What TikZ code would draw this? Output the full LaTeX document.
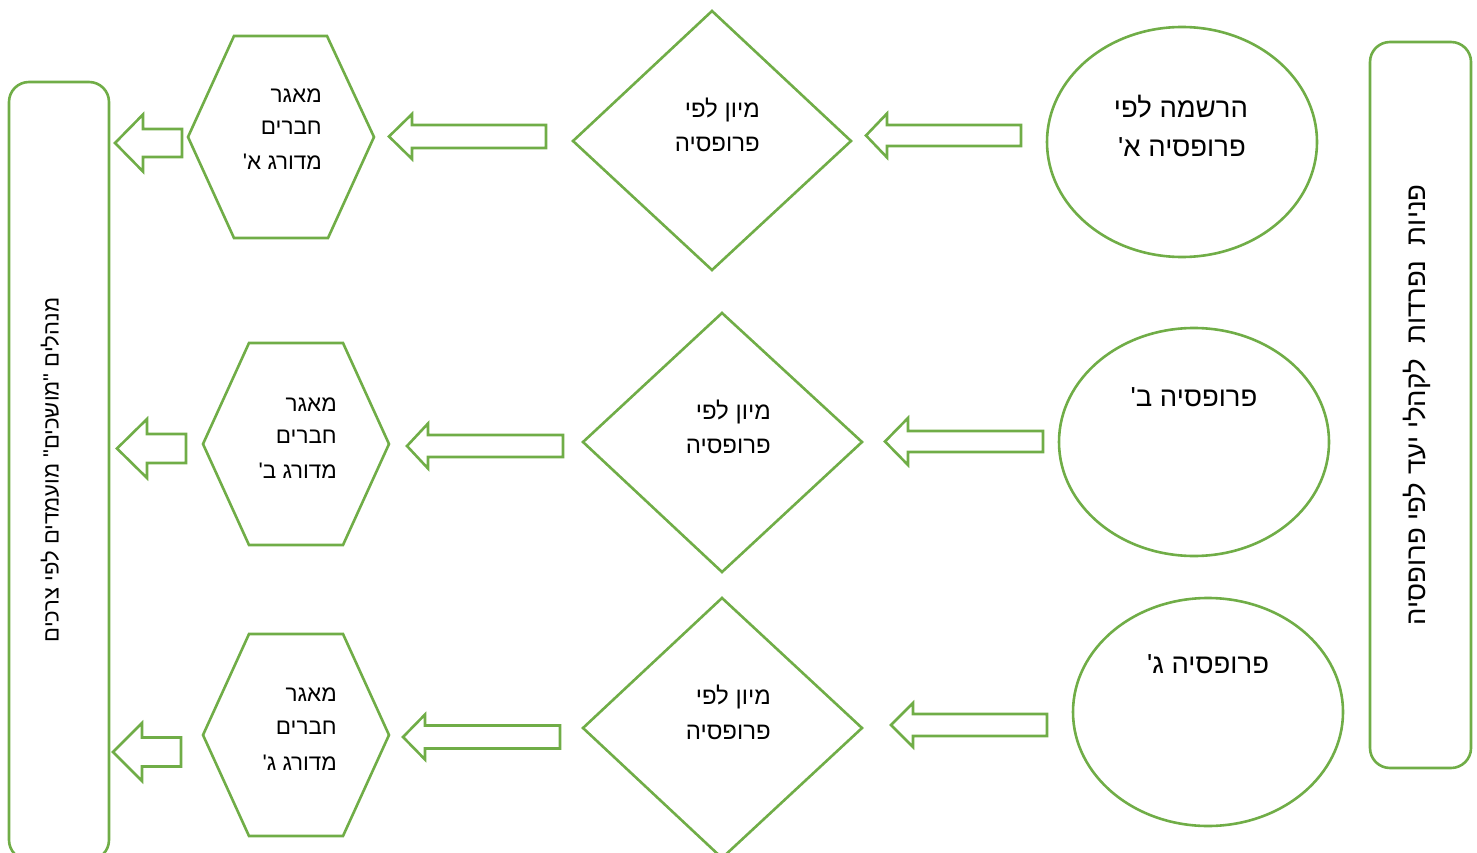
\documentclass[tikz,border=0pt]{standalone}
\usepackage{fontspec}
\newfontfamily\heb[Script=Hebrew]{Liberation Sans}
\TeXXeTstate=1
\definecolor{grn}{HTML}{70AD47}
\newcommand\blockarrow[6]{% tipx, y, basex, headhalf, shafthalf, tailx
  \draw[shp] ({#1},{#2}) -- ({#3},{#2-#4}) -- ({#3},{#2-#5}) -- ({#6},{#2-#5})
    -- ({#6},{#2+#5}) -- ({#3},{#2+#5}) -- ({#3},{#2+#4}) -- cycle;}
\newcommand\R[1]{\beginR #1\endR}
\begin{document}
\begin{tikzpicture}[x=1pt,y=-1pt,
  shp/.style={draw=grn,line width=2.6pt,line join=miter},
  big/.style={font=\heb\fontsize{27.5}{27.5}\selectfont,inner sep=0pt},
  mid/.style={font=\heb\fontsize{24}{24}\selectfont,inner sep=0pt},
  hex/.style={font=\heb\fontsize{22.5}{22.5}\selectfont,inner sep=0pt},
  vert/.style={font=\heb\fontsize{27.5}{27.5}\selectfont,inner sep=0pt,rotate=90}]
\useasboundingbox (0,0) rectangle (1477,853);
\begin{scope}
\clip (0,0) rectangle (1477,853);
% side boxes
\draw[shp,rounded corners=20pt] (1370,42) rectangle (1471,768);
\draw[shp,rounded corners=20pt] (9,82) rectangle (109,860);
% ellipses
\draw[shp] (1182,142) ellipse [x radius=135, y radius=115];
\draw[shp] (1194,442) ellipse [x radius=135, y radius=114];
\draw[shp] (1208,712) ellipse [x radius=135, y radius=114];
% diamonds
\draw[shp] (712,11) -- (851,141) -- (712,270) -- (573,141) -- cycle;
\draw[shp] (722,313) -- (862,442) -- (722,572) -- (583,442) -- cycle;
\draw[shp] (722,598) -- (862,728) -- (722,858) -- (583,728) -- cycle;
% hexagons
\draw[shp] (234,36) -- (327,36) -- (374,137) -- (328,238) -- (234,238) -- (188,137) -- cycle;
\draw[shp] (249,343) -- (343,343) -- (389,444) -- (343,545) -- (249,545) -- (203,444) -- cycle;
\draw[shp] (249,634) -- (343,634) -- (389,735) -- (343,836) -- (249,836) -- (203,735) -- cycle;
% block arrows
\blockarrow{115}{143}{143}{28.5}{14}{182}
\blockarrow{389}{136.5}{412}{22.5}{11.5}{546}
\blockarrow{866}{135.5}{887}{22}{10.5}{1021}
\blockarrow{117}{448.5}{147}{29.5}{14.5}{186}
\blockarrow{407}{446}{428}{22.5}{11}{563}
\blockarrow{885}{441.5}{908}{23.5}{10.5}{1043}
\blockarrow{113}{752}{142}{29}{14.5}{181}
\blockarrow{403}{737}{425}{22.5}{11.5}{560}
\blockarrow{891}{725}{913}{22}{11}{1047}
\end{scope}
% texts: ellipses
\node[big,anchor=base] (e1a) at (1181,118) {\R{הרשמה לפי}};
\node[big,anchor=base] (e1b) at (1182,157) {\R{פרופסיה א'}};
\node[big,anchor=base] (e2) at (1194,406) {\R{פרופסיה ב'}};
\node[big,anchor=base] (e3) at (1208,673) {\R{פרופסיה ג'}};
% diamonds
\node[mid,anchor=base east] (d1a) at (760,118) {\R{מיון לפי}};
\node[mid,anchor=base east] (d1b) at (760,152) {\R{פרופסיה}};
\node[mid,anchor=base east] (d2a) at (771,419) {\R{מיון לפי}};
\node[mid,anchor=base east] (d2b) at (771,453) {\R{פרופסיה}};
\node[mid,anchor=base east] (d3a) at (771,704) {\R{מיון לפי}};
\node[mid,anchor=base east] (d3b) at (771,739) {\R{פרופסיה}};
% hexagons
\node[hex,anchor=base east] (h1a) at (322,103) {\R{מאגר}};
\node[hex,anchor=base east] (h1b) at (322,135) {\R{חברים}};
\node[hex,anchor=base east] (h1c) at (322,170) {\R{מדורג א'}};
\node[hex,anchor=base east] (h2a) at (337,411) {\R{מאגר}};
\node[hex,anchor=base east] (h2b) at (337,443) {\R{חברים}};
\node[hex,anchor=base east] (h2c) at (337,478) {\R{מדורג ב'}};
\node[hex,anchor=base east] (h3a) at (337,701) {\R{מאגר}};
\node[hex,anchor=base east] (h3b) at (337,734) {\R{חברים}};
\node[hex,anchor=base east] (h3c) at (337,770) {\R{מדורג ג'}};
% vertical texts
\node[vert] (rt) at (1417,405) {\R{פניות\ \ נפרדות\ \ לקהלי\ יעד לפי פרופסיה}};
\node[vert,font=\heb\fontsize{22}{22}\selectfont] (lt) at (50,470) {\R{מנהלים "מושכים" מועמדים לפי צרכים}};
\end{tikzpicture}
\end{document}
